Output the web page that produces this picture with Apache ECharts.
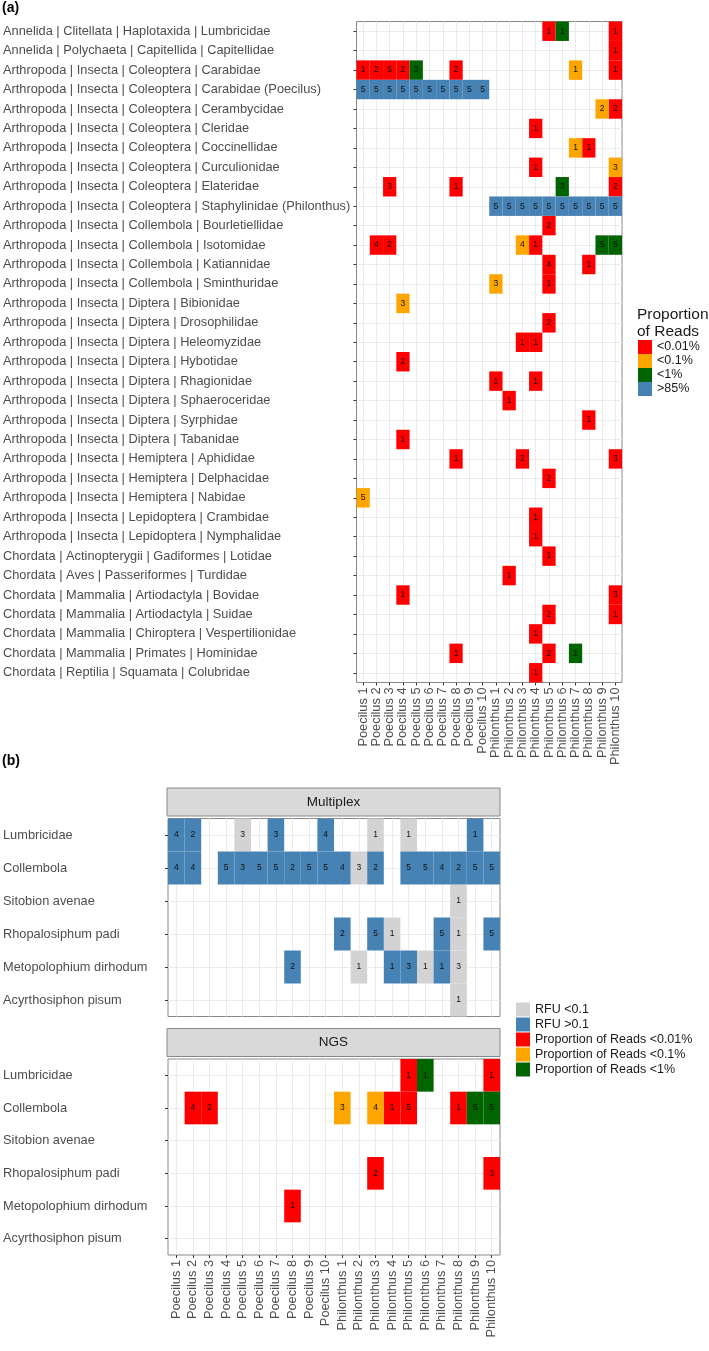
<!DOCTYPE html>
<html><head><meta charset="utf-8">
<script src="https://cdn.jsdelivr.net/npm/echarts@6/dist/echarts.min.js"></script>
<style>html,body{margin:0;padding:0;background:#fff}#c{width:709px;height:1351px}</style>
</head><body><div id="c"></div>
<script>
const samples = ['Poecilus 1','Poecilus 2','Poecilus 3','Poecilus 4','Poecilus 5','Poecilus 6','Poecilus 7','Poecilus 8','Poecilus 9','Poecilus 10',
  'Philonthus 1','Philonthus 2','Philonthus 3','Philonthus 4','Philonthus 5','Philonthus 6','Philonthus 7','Philonthus 8','Philonthus 9','Philonthus 10'];
const taxaA = [
  'Annelida | Clitellata | Haplotaxida | Lumbricidae',
  'Annelida | Polychaeta | Capitellida | Capitellidae',
  'Arthropoda | Insecta | Coleoptera | Carabidae',
  'Arthropoda | Insecta | Coleoptera | Carabidae (Poecilus)',
  'Arthropoda | Insecta | Coleoptera | Cerambycidae',
  'Arthropoda | Insecta | Coleoptera | Cleridae',
  'Arthropoda | Insecta | Coleoptera | Coccinellidae',
  'Arthropoda | Insecta | Coleoptera | Curculionidae',
  'Arthropoda | Insecta | Coleoptera | Elateridae',
  'Arthropoda | Insecta | Coleoptera | Staphylinidae (Philonthus)',
  'Arthropoda | Insecta | Collembola | Bourletiellidae',
  'Arthropoda | Insecta | Collembola | Isotomidae',
  'Arthropoda | Insecta | Collembola | Katiannidae',
  'Arthropoda | Insecta | Collembola | Sminthuridae',
  'Arthropoda | Insecta | Diptera | Bibionidae',
  'Arthropoda | Insecta | Diptera | Drosophilidae',
  'Arthropoda | Insecta | Diptera | Heleomyzidae',
  'Arthropoda | Insecta | Diptera | Hybotidae',
  'Arthropoda | Insecta | Diptera | Rhagionidae',
  'Arthropoda | Insecta | Diptera | Sphaeroceridae',
  'Arthropoda | Insecta | Diptera | Syrphidae',
  'Arthropoda | Insecta | Diptera | Tabanidae',
  'Arthropoda | Insecta | Hemiptera | Aphididae',
  'Arthropoda | Insecta | Hemiptera | Delphacidae',
  'Arthropoda | Insecta | Hemiptera | Nabidae',
  'Arthropoda | Insecta | Lepidoptera | Crambidae',
  'Arthropoda | Insecta | Lepidoptera | Nymphalidae',
  'Chordata | Actinopterygii | Gadiformes | Lotidae',
  'Chordata | Aves | Passeriformes | Turdidae',
  'Chordata | Mammalia | Artiodactyla | Bovidae',
  'Chordata | Mammalia | Artiodactyla | Suidae',
  'Chordata | Mammalia | Chiroptera | Vespertilionidae',
  'Chordata | Mammalia | Primates | Hominidae',
  'Chordata | Reptilia | Squamata | Colubridae'
];
const taxaB = ['Lumbricidae','Collembola','Sitobion avenae','Rhopalosiphum padi','Metopolophium dirhodum','Acyrthosiphon pisum'];

// [sample index, taxon index, count]
const aReadsLt001 = [[14,0,1],[19,0,1],[19,1,1],[0,2,1],[1,2,2],[2,2,5],[3,2,2],[7,2,2],[19,2,1],[19,4,2],[13,5,1],[17,6,1],[13,7,1],
  [2,8,3],[7,8,1],[19,8,2],[14,10,2],[1,11,4],[2,11,2],[13,11,1],[14,12,4],[17,12,1],[14,13,1],[14,15,2],[12,16,1],[13,16,1],[3,17,2],
  [10,18,1],[13,18,1],[11,19,1],[17,20,1],[3,21,1],[7,22,1],[12,22,2],[19,22,3],[14,23,2],[13,25,1],[13,26,1],[14,27,1],[11,28,1],
  [3,29,1],[19,29,3],[14,30,2],[19,30,1],[13,31,1],[7,32,1],[14,32,2],[13,33,1]];
const aReadsLt01 = [[16,2,1],[18,4,2],[16,6,1],[19,7,3],[12,11,4],[10,13,3],[3,14,3],[0,24,5]];
const aReadsLt1 = [[15,0,1],[4,2,3],[15,8,3],[18,11,5],[19,11,5],[16,32,1]];
const aReadsGt85 = [[0,3,5],[1,3,5],[2,3,5],[3,3,5],[4,3,5],[5,3,5],[6,3,5],[7,3,5],[8,3,5],[9,3,5],
  [10,9,5],[11,9,5],[12,9,5],[13,9,5],[14,9,5],[15,9,5],[16,9,5],[17,9,5],[18,9,5],[19,9,5]];

const mRfuLt01 = [[4,0,3],[12,0,1],[14,0,1],[11,1,3],[17,2,1],[13,3,1],[17,3,1],[11,4,1],[15,4,1],[17,4,3],[17,5,1]];
const mRfuGt01 = [[0,0,4],[1,0,2],[6,0,3],[9,0,4],[18,0,1],
  [0,1,4],[1,1,4],[3,1,5],[4,1,3],[5,1,5],[6,1,5],[7,1,2],[8,1,5],[9,1,5],[10,1,4],[12,1,2],[14,1,5],[15,1,5],[16,1,4],[17,1,2],[18,1,5],[19,1,5],
  [10,3,2],[12,3,5],[16,3,5],[19,3,5],
  [7,4,2],[13,4,1],[14,4,3],[16,4,1]];
const nReadsLt001 = [[14,0,1],[19,0,1],[1,1,4],[2,1,2],[13,1,1],[14,1,5],[17,1,1],[12,3,2],[19,3,3],[7,4,1]];
const nReadsLt01 = [[10,1,3],[12,1,4]];
const nReadsLt1 = [[15,0,1],[18,1,5],[19,1,5]];

const FF = '"Liberation Sans", Arial, Helvetica, sans-serif';
const C = {red:'#FF0000', orange:'#FFA500', green:'#006400', blue:'#4682B4', gray:'#D3D3D3'};

function renderCell(params, api) {
  const c = api.coord([api.value(0), api.value(1)]);
  const s = api.size([1, 1]);
  return {type:'group', children:[
    {type:'rect', shape:{x:c[0]-s[0]/2, y:c[1]-s[1]/2, width:s[0], height:s[1]}, style:{fill: api.visual('color')}},
    {type:'text', x:c[0], y:c[1], style:{text:String(api.value(2)), fill:'#111', fontSize:8.5, fontFamily:FF, align:'center', verticalAlign:'middle'}}
  ]};
}
function cellSeries(name, data, color, axisIdx) {
  return {type:'custom', name, data, xAxisIndex:axisIdx, yAxisIndex:axisIdx, encode:{x:0, y:1},
    itemStyle:{color}, renderItem:renderCell, silent:true, z:3};
}
function xAxisCfg(gi, show) {
  return {type:'category', gridIndex:gi, data:samples, boundaryGap:true,
    axisLine:{show:false},
    axisTick:{show:show, alignWithLabel:true, length:3, lineStyle:{color:'#333'}},
    axisLabel:{show:show, rotate:90, interval:0, margin:5, fontSize:12.8, color:'#4D4D4D', fontFamily:FF},
    splitLine:{show:true, alignWithLabel:true, interval:0, lineStyle:{color:'#EBEBEB', width:1}}};
}
function yAxisCfg(gi, data, margin) {
  return {type:'category', gridIndex:gi, data, inverse:true, boundaryGap:true,
    axisLine:{show:false},
    axisTick:{show:true, alignWithLabel:true, length:3, lineStyle:{color:'#333'}},
    axisLabel:{show:true, interval:0, align:'left', margin, fontSize:12.8, color:'#4D4D4D', fontFamily:FF},
    splitLine:{show:true, alignWithLabel:true, interval:0, lineStyle:{color:'#EBEBEB', width:1}}};
}
const gridStyle = {show:true, borderColor:'#888', borderWidth:1, backgroundColor:'#fff'};

const chart = echarts.init(document.getElementById('c'), null, {renderer:'canvas'});
chart.setOption({
  animation:false,
  backgroundColor:'#fff',
  grid:[
    Object.assign({left:356, top:21.5, width:266, height:661}, gridStyle),
    Object.assign({left:167, top:818.5, width:333, height:198}, gridStyle),
    Object.assign({left:167, top:1059, width:333, height:196}, gridStyle)
  ],
  xAxis:[xAxisCfg(0,true), xAxisCfg(1,false), xAxisCfg(2,true)],
  yAxis:[yAxisCfg(0,taxaA,353.5), yAxisCfg(1,taxaB,165), yAxisCfg(2,taxaB,165)],
  legend:[
    {data:['<0.01%','<0.1%','<1%','>85%'], orient:'vertical', left:638, top:340, padding:0, itemGap:0,
      itemWidth:14, itemHeight:14, icon:'rect', selectedMode:false,
      textStyle:{fontSize:12.5, lineHeight:14, color:'#1a1a1a', fontFamily:FF}},
    {data:['RFU <0.1','RFU >0.1','Proportion of Reads <0.01%','Proportion of Reads <0.1%','Proportion of Reads <1%'],
      orient:'vertical', left:516, top:1002, padding:0, itemGap:0,
      itemWidth:14, itemHeight:14, icon:'rect', selectedMode:false,
      textStyle:{fontSize:12.5, lineHeight:15, color:'#1a1a1a', fontFamily:FF}}
  ],
  graphic:[
    {type:'text', x:2, y:8.5, style:{text:'(a)', font:'bold 14px '+FF, fill:'#000', verticalAlign:'middle'}},
    {type:'text', x:2, y:761.5, style:{text:'(b)', font:'bold 14px '+FF, fill:'#000', verticalAlign:'middle'}},
    {type:'text', x:637, y:306.5, style:{text:'Proportion\nof Reads', font:'15.5px '+FF, lineHeight:16.7, fill:'#1a1a1a', verticalAlign:'top'}},
    {type:'rect', shape:{x:167, y:788, width:333, height:28}, style:{fill:'#D9D9D9', stroke:'#888', lineWidth:1}},
    {type:'text', x:333.5, y:802, style:{text:'Multiplex', font:'13.5px '+FF, fill:'#1A1A1A', align:'center', verticalAlign:'middle'}},
    {type:'rect', shape:{x:167, y:1028.5, width:333, height:28}, style:{fill:'#D9D9D9', stroke:'#888', lineWidth:1}},
    {type:'text', x:333.5, y:1042.5, style:{text:'NGS', font:'13.5px '+FF, fill:'#1A1A1A', align:'center', verticalAlign:'middle'}}
  ],
  series:[
    cellSeries('<0.01%', aReadsLt001, C.red, 0),
    cellSeries('<0.1%', aReadsLt01, C.orange, 0),
    cellSeries('<1%', aReadsLt1, C.green, 0),
    cellSeries('>85%', aReadsGt85, C.blue, 0),
    cellSeries('RFU <0.1', mRfuLt01, C.gray, 1),
    cellSeries('RFU >0.1', mRfuGt01, C.blue, 1),
    cellSeries('Proportion of Reads <0.01%', nReadsLt001, C.red, 2),
    cellSeries('Proportion of Reads <0.1%', nReadsLt01, C.orange, 2),
    cellSeries('Proportion of Reads <1%', nReadsLt1, C.green, 2)
  ]
});
</script></body></html>
